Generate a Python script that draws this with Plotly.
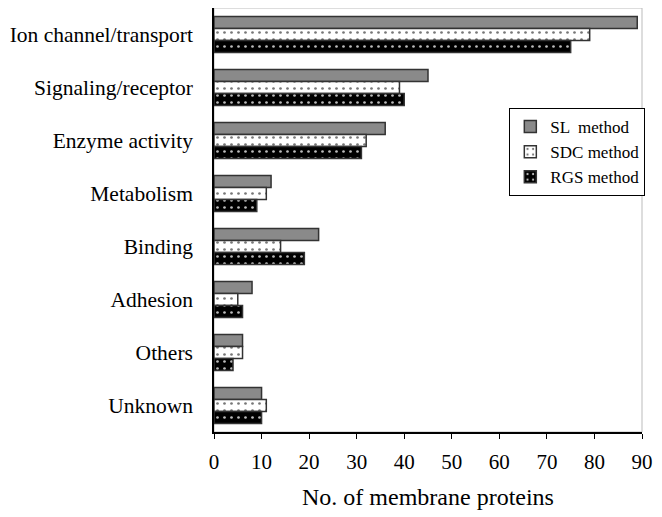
import plotly.graph_objects as go

categories = ['Ion channel/transport', 'Signaling/receptor', 'Enzyme activity', 'Metabolism',
              'Binding', 'Adhesion', 'Others', 'Unknown']
sl = [89, 45, 36, 12, 22, 8, 6, 10]
sdc = [79, 39, 32, 11, 14, 5, 6, 11]
rgs = [75, 40, 31, 9, 19, 6, 4, 10]

font = 'Liberation Serif'

fig = go.Figure()
fig.add_trace(go.Bar(y=categories, x=sl, orientation='h', name='SL  method',
                     marker=dict(color='#8a8a8a', line=dict(color='#333333', width=1.5))))
fig.add_trace(go.Bar(y=categories, x=sdc, orientation='h', name='SDC method',
                     marker=dict(color='white', line=dict(color='#333333', width=1.5),
                                 pattern=dict(shape='.', fillmode='replace', bgcolor='white',
                                              fgcolor='#777777', size=7, solidity=0.12))))
fig.add_trace(go.Bar(y=categories, x=rgs, orientation='h', name='RGS method',
                     marker=dict(color='black', line=dict(color='#333333', width=1.5),
                                 pattern=dict(shape='.', fillmode='replace', bgcolor='black',
                                              fgcolor='#bbbbbb', size=7, solidity=0.12))))

# page body adds an 8px offset, so the figure is 8px smaller and shifted
fig.update_layout(
    width=654, height=509,
    margin=dict(l=206, r=20, t=0, b=85),
    plot_bgcolor='white', paper_bgcolor='white',
    barmode='group', bargap=0.32, bargroupgap=0,
    font=dict(family=font, size=21.5, color='black'),
    legend=dict(x=0.69, y=0.764, xanchor='left', yanchor='top',
                bordercolor='black', borderwidth=1, bgcolor='white',
                font=dict(size=17), tracegroupgap=0, itemwidth=30),
    xaxis=dict(range=[0, 90], dtick=10, showgrid=False, zeroline=False,
               showline=True, linecolor='black', linewidth=1.5,
               ticks='outside', ticklen=5, tickcolor='black',
               tickfont=dict(size=21),
               ticklabelstandoff=5, automargin=False,
               title=dict(text='No. of membrane proteins', font=dict(size=24), standoff=15)),
    yaxis=dict(categoryorder='array', categoryarray=categories, autorange='reversed',
               showgrid=False, showline=True, linecolor='black', linewidth=1.5,
               ticks='', ticklabelstandoff=15, automargin=False),
    shapes=[dict(type='rect', xref='x domain', yref='y domain', x0=0, x1=1, y0=0, y1=1,
                 line=dict(color='#bbbbbb', width=1), layer='below')],
)

fig.write_html("out.html")
